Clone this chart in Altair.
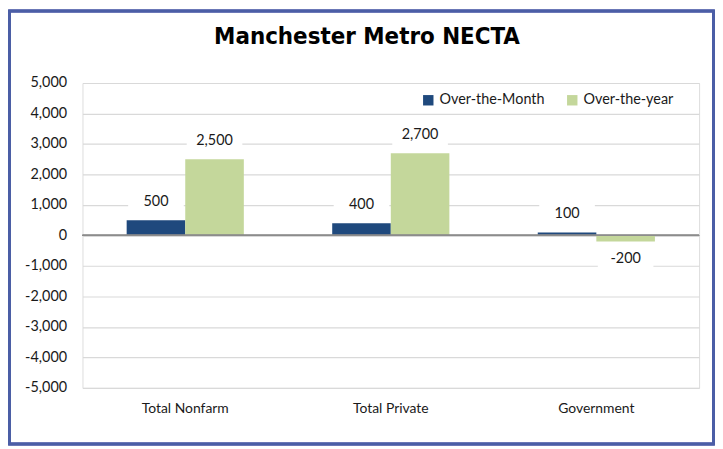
import altair as alt
import pandas as pd

categories = ["Total Nonfarm", "Total Private", "Government"]
series_names = ["Over-the-Month", "Over-the-year"]
over_the_month = [500, 400, 100]
over_the_year = [2500, 2700, -200]
series_colors = ["#1F497D", "#C4D79B"]
y_ticks = [-5000, -4000, -3000, -2000, -1000, 0, 1000, 2000, 3000, 4000, 5000]

rows = []
for c, m, y in zip(categories, over_the_month, over_the_year):
    rows.append({"category": c, "series": series_names[0], "value": m})
    rows.append({"category": c, "series": series_names[1], "value": y})
df = pd.DataFrame(rows)

LABEL_FONT = "Lato"
TITLE_FONT = "Liberation Sans Narrow, DejaVu Sans Condensed, Roboto, sans-serif"
MINUS = "\u2212"

W, H = 621, 307
PAD_L, PAD_T, PAD_R, PAD_B = 75, 74, 16, 58

base = alt.Chart(df)

x_enc = alt.X(
    "category:N",
    sort=categories,
    scale=alt.Scale(paddingInner=0.43, paddingOuter=0.215),
    axis=alt.Axis(title=None, labelAngle=0, domain=False, ticks=False,
                  labelPadding=14, labelFont=LABEL_FONT, labelFontSize=14,
                  labelColor="#1a1a1a", grid=False),
)
y_enc = alt.Y(
    "value:Q",
    scale=alt.Scale(domain=[-5000, 5000], nice=False),
    axis=alt.Axis(title=None, values=y_ticks, tickCount=11, labelOverlap=False,
                  domain=False, ticks=False,
                  labelPadding=16, labelFont=LABEL_FONT, labelFontSize=14.5,
                  labelColor="#1a1a1a", gridColor="#D9D9D9", gridWidth=1.2,
                  labelExpr=f"replace(format(datum.value, ','), '{MINUS}', '-')"),
)
xoff = alt.XOffset("series:N", sort=series_names)

bars = base.mark_bar().encode(
    x=x_enc,
    y=y_enc,
    xOffset=xoff,
    color=alt.Color(
        "series:N",
        sort=series_names,
        scale=alt.Scale(domain=series_names, range=series_colors),
        legend=alt.Legend(title=None, orient="none", legendX=341, legendY=10,
                          direction="horizontal", symbolType="square",
                          symbolSize=110, symbolStrokeWidth=0,
                          labelFont=LABEL_FONT, labelFontSize=14.5,
                          labelColor="#1a1a1a", columnPadding=20,
                          fillColor="white"),
    ),
)

zero = alt.Chart(df).mark_rule(color="#8C8C8C", strokeWidth=1.2).encode(y=alt.datum(0))

label_calc = f"replace(format(datum.value, ','), '{MINUS}', '-')"
box_shape = "M-1,-0.36H1V0.36H-1Z"

pos = base.transform_filter("datum.value >= 0").transform_calculate(lbl=label_calc)
neg = base.transform_filter("datum.value < 0").transform_calculate(lbl=label_calc)

def boxes(src, off):
    return src.mark_point(shape=box_shape, filled=True, color="white",
                          opacity=1, size=3136, yOffset=off).encode(
        x=alt.X("category:N", sort=categories), y="value:Q", xOffset=xoff)

def labels(src, off):
    return src.mark_text(font=LABEL_FONT, fontSize=14.5, color="#1a1a1a",
                         baseline="middle", yOffset=off).encode(
        x=alt.X("category:N", sort=categories), y="value:Q", xOffset=xoff,
        text="lbl:N")

border = alt.Chart(df).mark_rect(fill=None, stroke="#4B5EA6", strokeWidth=2.5).encode(
    x=alt.value(-PAD_L + 1.5), x2=alt.value(W + PAD_R - 1.5),
    y=alt.value(-PAD_T + 1.5), y2=alt.value(H + PAD_B - 1.5),
)

chart = alt.layer(
    bars, zero, boxes(pos, -18), boxes(neg, 18), labels(pos, -18), labels(neg, 18), border
).properties(
    width=W, height=H,
    title=alt.TitleParams("Manchester Metro NECTA", font=TITLE_FONT,
                          fontSize=24, fontWeight="bold", anchor="middle",
                          dx=-24, offset=-39, color="#000000"),
    autosize=alt.AutoSizeParams(type="none"),
    padding={"left": PAD_L, "top": PAD_T, "right": PAD_R, "bottom": PAD_B},
).configure_view(
    stroke="#C8C8C8", strokeWidth=1.5
).configure(background="white")

chart.save("out.html", embed_options={"renderer": "svg", "actions": False})
